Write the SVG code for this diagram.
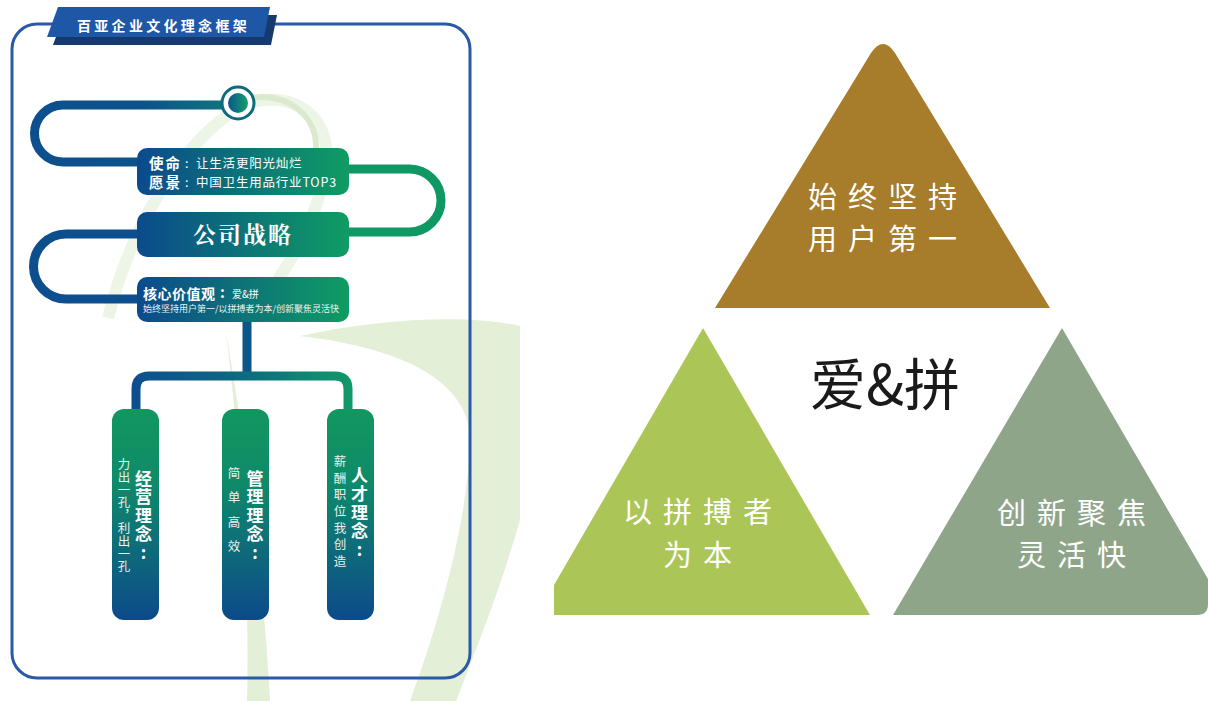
<svg xmlns="http://www.w3.org/2000/svg" width="1208" height="701" viewBox="0 0 1208 701">
  <defs>
    <linearGradient id="gH" x1="0" y1="0" x2="1" y2="0">
      <stop offset="0" stop-color="#0b4a8c"/>
      <stop offset="1" stop-color="#0f9c63"/>
    </linearGradient>
    <linearGradient id="gV" x1="0" y1="0" x2="0" y2="1">
      <stop offset="0" stop-color="#12975f"/>
      <stop offset="0.35" stop-color="#0f8a6a"/>
      <stop offset="1" stop-color="#0c4a8b"/>
    </linearGradient>
    <linearGradient id="gTop" gradientUnits="userSpaceOnUse" x1="34" y1="0" x2="238" y2="0">
      <stop offset="0" stop-color="#0d4f8e"/>
      <stop offset="0.55" stop-color="#0d5389"/>
      <stop offset="1" stop-color="#10797c"/>
    </linearGradient>
    <linearGradient id="gTree" gradientUnits="userSpaceOnUse" x1="136" y1="0" x2="348" y2="0">
      <stop offset="0" stop-color="#0d4f8e"/>
      <stop offset="0.5" stop-color="#0e6a80"/>
      <stop offset="1" stop-color="#10976a"/>
    </linearGradient>
    <linearGradient id="gDot" x1="0" y1="0" x2="1" y2="0">
      <stop offset="0" stop-color="#0c558c"/>
      <stop offset="1" stop-color="#12a268"/>
    </linearGradient>
    <style>
      .cjk { font-family: "Noto Sans CJK SC", "Noto Sans", sans-serif; }
      .b { font-weight: 700; }
      .w { fill: #ffffff; }
      .sub { fill: #e9f4ef; }
      .swoosh { fill: #e3efd6; }
      .pipe { fill: none; stroke-width: 9; stroke-linecap: butt; }
      .box { fill: url(#gH); }
      .pillar { fill: url(#gV); }
      .tri-t { fill: #fff; font-size: 29px; letter-spacing: 11px; text-anchor: middle; }
      .vt { writing-mode: vertical-rl; text-orientation: upright; }
      .pt { font-size: 17px; font-weight: 700; letter-spacing: 1.4px; fill: #fff; }
      .ps { font-size: 12.5px; fill: #e6f2ee; }
      .lbl { font-size: 14.5px; font-weight: 700; letter-spacing: 2px; }
      .txt { font-size: 12.5px; font-weight: 400; }
    </style>
  </defs>

  <rect width="1208" height="701" fill="#ffffff"/>

  <!-- background decorative swooshes -->
  <g id="background">
    <path class="swoosh" d="M 226 332 C 240 450 250 580 247 701 L 270 701 C 264 580 246 450 226 332 Z"/>
    <path class="swoosh" d="M 300 336 C 380 318 470 314 520 326 L 520 520 C 500 590 476 650 456 701 L 410 701 C 440 620 468 520 470 440 C 470 390 420 350 300 336 Z"/>
    <path d="M 108 318 C 130 230 180 140 245 104 C 285 90 330 110 326 160 C 322 210 292 262 262 302" fill="none" stroke="#edf5e6" stroke-width="12"/>
    <path d="M 250 98 C 290 92 318 118 316 150" fill="none" stroke="#dbeacf" stroke-width="6"/>
  </g>

  <!-- frame -->
  <rect x="12" y="24" width="458" height="654" rx="25" fill="none" stroke="#2a5aa7" stroke-width="3"/>

  <g id="n-title">
    <polygon points="64,15 277,15 271,45 53,45" fill="#163a70"/>
    <polygon points="58,7 270,7 264,37 47,37" fill="#1f57a7"/>
    <text class="cjk b w" x="77" y="31" font-size="14" letter-spacing="3.3">百亚企业文化理念框架</text>
  </g>

  <g id="connectors">
    <path class="pipe" stroke="url(#gTop)" d="M 137 162 H 63 A 28.5 28.5 0 0 1 63 105 H 225"/>
    <path class="pipe" stroke="#0f9764" d="M 349 169 H 409.5 A 31.5 31.5 0 0 1 409.5 232 H 349"/>
    <path class="pipe" stroke="#0d4f8e" d="M 137 234 H 66 A 32.5 32.5 0 0 0 66 299 H 137"/>
    <path class="pipe" stroke="#0d5688" d="M 247 322 V 376"/>
    <path class="pipe" stroke="url(#gTree)" d="M 136 410 V 389 Q 136 376 149 376 H 335 Q 348 376 348 389 V 410"/>
  </g>

  <g id="n-start">
    <circle cx="238" cy="103" r="16" fill="#ffffff" stroke="#0e6b7d" stroke-width="3"/>
    <circle cx="238" cy="103" r="10" fill="url(#gDot)"/>
  </g>

  <g id="n-mission">
    <rect class="box" x="137" y="148" width="212" height="47" rx="10"/>
    <text class="cjk w"><tspan class="lbl" x="149" y="168.5">使命</tspan><tspan class="txt" x="185" y="168">:</tspan><tspan class="txt" x="196" y="168" letter-spacing="0.8">让生活更阳光灿烂</tspan><tspan class="lbl" x="149" y="188">愿景</tspan><tspan class="txt" x="185" y="187">:</tspan><tspan class="txt" x="196" y="187" letter-spacing="0.8">中国卫生用品行业TOP3</tspan></text>
  </g>

  <g id="n-strategy">
    <rect class="box" x="137" y="212" width="212" height="45" rx="10"/>
    <text x="243" y="243" font-size="23" font-weight="700" letter-spacing="2" text-anchor="middle" fill="#fff" font-family="'Noto Serif CJK SC', 'Noto Sans CJK SC', serif">公司战略</text>
  </g>

  <g id="n-values">
    <rect class="box" x="137" y="277" width="212" height="45" rx="10"/>
    <text class="cjk w"><tspan x="143" y="298.5" font-size="14" font-weight="700" letter-spacing="0.5">核心价值观</tspan><tspan x="220" y="298" font-size="15" font-weight="700">:</tspan><tspan x="232" y="297.5" font-size="10">爱&amp;拼</tspan><tspan class="sub" x="143" y="311.5" font-size="9">始终坚持用户第一/以拼搏者为本/创新聚焦灵活快</tspan></text>
  </g>

  <g id="n-biz">
    <rect class="pillar" x="112" y="409" width="47" height="211" rx="12"/>
    <text class="cjk vt pt" x="143.5" y="470">经营理念:</text>
    <text class="cjk vt ps" x="124" y="458" letter-spacing="0.3">力出一孔，利出一孔</text>
  </g>

  <g id="n-mgmt">
    <rect class="pillar" x="222" y="409" width="47" height="211" rx="12"/>
    <text class="cjk vt pt" x="255" y="470">管理理念:</text>
    <text class="cjk vt ps" x="234" y="467" letter-spacing="11.8">简单高效</text>
  </g>

  <g id="n-talent">
    <rect class="pillar" x="327" y="409" width="47" height="211" rx="12"/>
    <text class="cjk vt pt" x="359.5" y="467">人才理念:</text>
    <text class="cjk vt ps" x="340" y="455" letter-spacing="4.2">薪酬职位我创造</text>
  </g>

  <!-- right: values triangles -->
  <g id="tri-top">
    <path d="M 715 308 L 871 53 Q 883 35 895 53 L 1050 308 Z" fill="#a77c2a"/>
    <text class="cjk tri-t" x="888" y="208">始终坚持</text>
    <text class="cjk tri-t" x="888" y="250">用户第一</text>
  </g>

  <g id="tri-left">
    <path d="M 554 615 L 554 585 L 703 328 L 870 615 Z" fill="#abc657"/>
    <text class="cjk tri-t" x="703" y="523">以拼搏者</text>
    <text class="cjk tri-t" x="703" y="566">为本</text>
  </g>

  <g id="tri-right">
    <path d="M 893 615 L 1062 328 L 1208 579 L 1208 604 Q 1208 615 1197 615 Z" fill="#8fa58a"/>
    <text class="cjk tri-t" x="1077" y="524">创新聚焦</text>
    <text class="cjk tri-t" x="1077" y="566">灵活快</text>
  </g>

  <g id="center-text">
    <text class="cjk" x="885" y="405" font-size="56" fill="#1a1a1a" text-anchor="middle">爱&amp;拼</text>
  </g>
</svg>
